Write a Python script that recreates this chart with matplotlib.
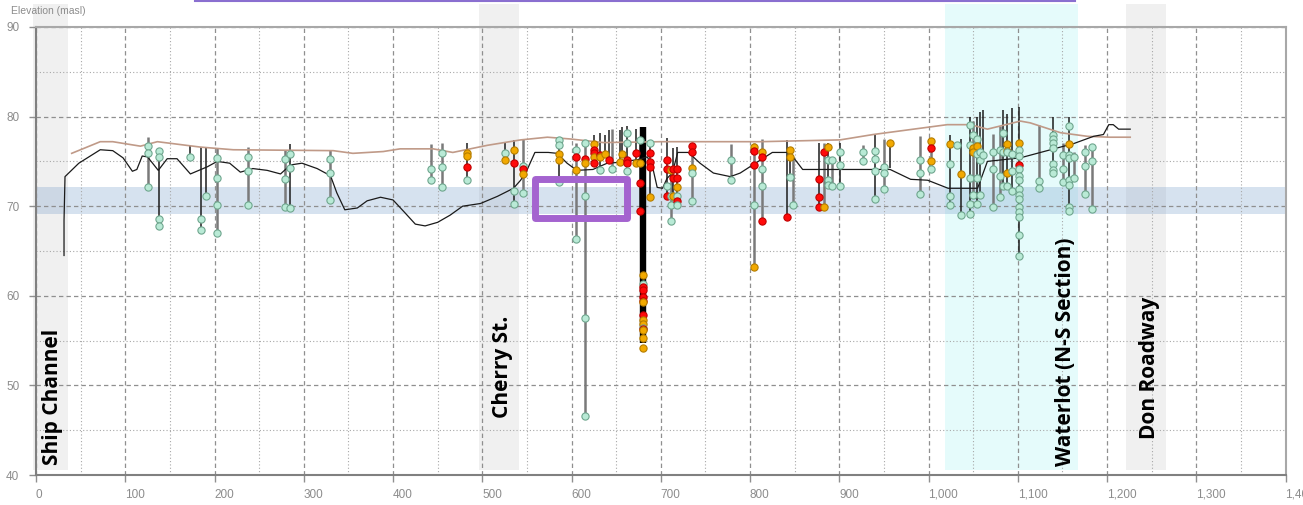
import matplotlib
matplotlib.use("Agg")
import matplotlib.pyplot as plt
from matplotlib.patches import Rectangle
from matplotlib.lines import Line2D

# ground surface (brown) and fill / bedrock profile (black)
surf_x = [40, 72, 86, 117, 136, 184, 221, 333, 355, 389, 408, 445, 467, 506, 543, 573, 599, 636,
          700, 812, 901, 938, 1021, 1047, 1066, 1103, 1114, 1148, 1178, 1203, 1226]
surf_z = [75.9, 77.2, 77.2, 76.7, 77.2, 76.6, 76.3, 76.2, 75.9, 76.1, 76.4, 76.4, 76.0, 76.8, 77.4,
          77.7, 77.5, 77.1, 77.2, 77.2, 77.4, 78.0, 79.1, 79.1, 78.6, 79.5, 79.3, 78.2, 77.8, 77.7, 77.7]

prof_x = [31.4, 31.4, 32.5, 48, 72, 86, 97.5, 108, 113, 119, 125, 137, 147, 158, 173, 192, 203, 217,
          229, 243, 259, 274, 285, 298, 315, 330, 337, 346, 360, 371, 386, 400, 414, 425, 436, 450,
          464, 478, 498, 517, 535, 543, 550, 559, 574, 584, 595, 606, 624, 640, 655, 674, 685, 691,
          696, 702, 707, 713, 719, 731, 744, 759, 778, 789, 803, 825, 842, 849, 859, 957, 980, 999,
          1022, 1055, 1066, 1103, 1163, 1185, 1196, 1202, 1207, 1213, 1226]
prof_z = [64.5, 68.4, 73.3, 74.8, 76.3, 76.2, 75.4, 73.9, 74.1, 75.6, 75.5, 74.0, 75.3, 75.3, 73.6,
          74.4, 75.0, 74.8, 73.8, 74.2, 74.0, 73.6, 74.6, 74.8, 74.2, 73.4, 71.5, 69.6, 69.8, 70.6,
          71.0, 70.7, 69.2, 68.0, 67.8, 68.2, 69.0, 70.0, 70.3, 71.1, 72.0, 72.9, 74.0, 76.0, 76.0,
          75.9, 74.8, 74.0, 74.1, 74.8, 74.9, 75.2, 75.5, 74.3, 72.1, 72.0, 73.1, 73.7, 76.0, 76.0,
          74.8, 73.7, 73.3, 73.7, 74.6, 76.0, 76.0, 75.4, 74.1, 74.1, 73.0, 72.9, 72.0, 72.0, 75.0,
          75.4, 77.0, 77.8, 78.0, 79.1, 79.1, 78.6, 78.6]

# boreholes: chainage, top, bottom, type
bh_x = [126, 137.5, 172, 185, 190.6, 203, 237, 279.5, 285, 329.6, 443, 455, 483, 525, 536, 546,
        586, 605, 615.5, 625, 632, 637, 642, 645, 654, 657, 662, 672, 677, 680, 688, 707, 712,
        714, 718, 735, 779, 804, 813, 841.5, 844.5, 848, 877, 882.6, 887, 892, 901, 927, 940,
        950.7, 957, 991, 1003, 1024, 1032, 1036, 1046, 1050, 1054, 1058, 1061, 1072.5, 1080,
        1083, 1088, 1093, 1101, 1124, 1139, 1151, 1157, 1163, 1175, 1183.5]
bh_top = [77.7, 76.5, 76.7, 76.6, 76.6, 76.5, 76.6, 76.3, 76.9, 76.3, 76.9, 77.0, 77.0, 77.1, 77.4,
          77.5, 77.6, 77.0, 77.4, 78.0, 78.2, 78.0, 78.5, 78.6, 78.5, 78.8, 79.0, 78.6, 77.6, 78.8,
          77.4, 77.6, 74.0, 76.5, 76.6, 76.9, 76.9, 77.0, 77.5, 77.4, 76.5, 75.5, 77.0, 77.0, 77.1,
          75.5, 77.0, 76.8, 78.0, 77.5, 77.3, 77.8, 77.5, 78.0, 77.0, 77.5, 80.0, 79.5, 80.0, 80.5,
          80.7, 78.1, 79.0, 80.7, 80.3, 81.0, 81.1, 79.1, 80.0, 77.0, 80.0, 76.0, 76.8, 76.8]
bh_bot = [72.1, 67.8, 75.5, 67.3, 70.7, 67.0, 70.1, 69.9, 69.8, 70.7, 72.9, 72.1, 72.9, 75.2, 70.2,
          71.5, 72.7, 66.3, 46.6, 74.8, 74.0, 75.8, 75.2, 74.2, 74.9, 75.8, 73.9, 74.8, 69.5, 54.7,
          71.0, 71.1, 68.4, 71.1, 70.1, 70.6, 72.9, 63.2, 68.4, 68.8, 73.3, 70.1, 69.9, 69.9, 72.4,
          72.2, 72.2, 75.1, 70.8, 71.9, 74.3, 71.4, 74.2, 70.0, 76.8, 69.0, 69.1, 71.3, 70.3, 71.3,
          75.7, 69.9, 71.0, 72.2, 72.2, 71.7, 64.4, 72.0, 73.7, 72.7, 69.5, 73.1, 71.4, 69.7]
bh_type = ["MW", "BH", "BH", "BH", "BH", "MW", "MW", "MW", "BH", "MW", "MW", "MW", "BH", "BH", "BH",
           "MW", "BH", "MW", "MW", "BH", "BH", "BH", "BH", "MW", "BH", "BH", "BH", "BH", "BH", "DP",
           "BH", "BH", "MW", "BH", "BH", "MW", "MW", "MW", "MW", "BH", "BH", "MW", "BH", "MW", "BH",
           "MW", "BH", "MW", "BH", "MW", "BH", "MW", "MW", "BH", "BH", "BH", "BH", "MW", "BH", "BH",
           "BH", "MW", "MW", "BH", "BH", "BH", "BH", "MW", "BH", "MW", "BH", "MW", "MW", "MW"]

# sample elevations per borehole and their result class (G ok, O moderate, R exceedance)
smp_z = [
    [76.7, 75.9, 72.1], [76.2, 75.5, 68.6, 67.8], [75.5], [68.6, 67.3], [71.1],
    [75.4, 73.1, 70.1, 67.0], [75.5, 73.9, 70.1], [75.3, 73.0, 69.9], [75.8, 74.3, 69.8],
    [75.3, 73.7, 70.7], [74.1, 72.9], [75.9, 74.4, 72.1], [75.9, 75.6, 74.4, 72.9], [75.9, 75.2],
    [76.3, 74.8, 71.7, 70.2], [74.5, 74.1, 73.6, 71.5], [77.4, 76.8, 75.8, 75.2, 72.7],
    [76.3, 75.5, 74.0, 66.3], [77.1, 75.3, 74.8, 71.1, 57.5, 46.6], [76.9, 76.3, 75.9, 75.5, 74.8],
    [75.7, 75.5, 74.0], [75.8], [75.2], [74.2], [74.9], [75.8], [78.2, 77.1, 75.2, 74.8, 73.9],
    [75.9, 74.8], [77.4, 74.8, 72.6, 69.5],
    [62.3, 61.3, 61.0, 60.6, 59.9, 59.4, 59.3, 57.9, 57.3, 56.9, 56.4, 56.3, 56.2, 55.3, 54.2],
    [77.1, 75.9, 74.9, 74.4, 71.0], [75.2, 74.1, 72.2, 71.1], [74.0, 71.1, 70.1, 68.4],
    [74.2, 73.2, 71.1], [74.1, 73.1, 72.1, 71.1, 70.6, 70.1], [76.7, 76.0, 74.3, 73.7, 70.6],
    [75.2, 72.9], [76.6, 76.2, 74.6, 70.1, 63.2], [76.1, 75.5, 74.1, 72.3, 68.4], [68.8],
    [76.3, 75.5, 73.3], [70.1], [73.0, 71.0, 69.9], [76.0, 69.9], [76.6, 75.2, 72.9, 72.4],
    [75.2, 72.2], [76.1, 74.6, 72.2], [76.0, 75.1], [76.2, 75.3, 73.9, 70.8], [74.4, 73.7, 71.9],
    [77.0], [75.2, 73.7, 71.4], [77.3, 76.5, 75.0, 74.2], [76.9, 74.7, 71.1, 70.1], [76.8],
    [73.6, 69.0], [79.1, 76.8, 73.2, 70.2, 69.1], [78.0, 76.5, 76.1, 71.3],
    [77.5, 76.7, 75.8, 73.1, 70.3], [76.0, 75.2, 71.3], [75.7], [76.0, 74.2, 69.9],
    [76.3, 73.4, 71.0], [78.2, 76.0, 72.2], [76.9, 76.2, 76.0, 73.7, 72.2], [75.8, 73.9, 71.7],
    [77.1, 76.3, 75.6, 74.6, 74.2, 73.4, 72.9, 71.9, 71.2, 70.8, 69.9, 69.4, 68.8, 66.8, 64.4],
    [72.8, 72.0], [77.9, 77.5, 77.0, 76.5, 74.7, 74.0, 73.7], [75.7, 74.2, 72.7],
    [79.0, 76.9, 75.7, 75.4, 72.9, 72.4, 69.9, 69.5], [75.5, 73.1], [76.0, 74.5, 71.4],
    [76.6, 75.0, 69.7],
]
smp_cls = [
    "GGG", "GGGG", "G", "GG", "G", "GGGG", "GGG", "GGG", "GGG", "GGG", "GG", "GGG", "OORG", "GO",
    "ORGG", "GROG", "GGOOG", "GROG", "GROGGG", "ORROR", "ROG", "O", "R", "G", "O", "O", "GGRRG",
    "RO", "GORR", "OGRRRROROOGROOO", "GRRRO", "RRGR", "OGGG", "RRO",
    "RROGRG", "RROGG", "GG", "ORRGO", "ORGGR", "R", "OOG", "G", "RRR", "RO", "OGGG", "GG", "GGG",
    "GG", "GGGG", "GGG", "O", "GGG", "OROG", "OGGG", "G", "OG", "GGGGG", "GOOG", "GOGGG", "GGG",
    "G", "GGG", "GGG", "GGG", "OOGOG", "GGG", "OGGRGGGGGGGGGGG", "GG", "GGGGGGG", "GGG",
    "GOGGGGGG", "GG", "GGG", "GGG",
]

# shaded zones along the alignment
zone_names = ["Ship Channel", "Cherry St.", "Waterlot (N-S Section)", "Don Roadway"]
zone_x0 = [-3, 496.6, 1018, 1221]
zone_x1 = [35.5, 541.5, 1167, 1266]
zone_label_x = [19, 523, 1153.5, 1248]
zone_label_z = [41.1, 46.4, 41.0, 44.0]

band_lo, band_hi = 69.1, 72.1          # groundwater range
focus_x = (558.9, 662.0)               # highlighted area
focus_z = (68.63, 73.09)

line_style = {"BH": ("#1c1c1c", 1.1), "MW": ("#7a7a7a", 1.8), "DP": ("#000000", 4.6)}
marker_col = {"G": ("#b9ead6", "#6fa68e"), "O": ("#f2a900", "#b57d00"), "R": ("#ff0a0a", "#c00000")}


def main():
    fig = plt.figure(figsize=(13.03, 5.05), dpi=100)
    ax = fig.add_axes([36 / 1303, 30 / 505, 1249.5 / 1303, 448 / 505])
    ax.set_xlim(0, 1400)
    ax.set_ylim(40, 90)

    zone_col = ["#f0f0f0", "#f0f0f0", "#e5fbfb", "#f0f0f0"]
    for x0, x1, c in zip(zone_x0, zone_x1, zone_col):
        ax.add_patch(Rectangle((x0, 40.55), x1 - x0, 52.05, facecolor=c, edgecolor="none",
                               zorder=0.2, clip_on=False))
    ax.axhspan(band_lo, band_hi, color="#6f98c8", alpha=0.28, lw=0, zorder=0.4)

    ax.set_xticks(range(0, 1401, 100))
    ax.set_xticks(range(50, 1400, 100), minor=True)
    ax.set_yticks(range(40, 91, 10))
    ax.set_yticks(range(45, 90, 10), minor=True)
    ax.set_xticklabels([f"{v:,}" for v in range(0, 1401, 100)], ha="left")
    ax.grid(which="major", color="#8f8f8f", lw=0.9, ls=(0, (3.5, 2.5)))
    ax.grid(which="minor", color="#a8a8a8", lw=0.8, ls=(0, (1, 2)))
    ax.tick_params(which="major", length=5, width=1, color="#8f8f8f", labelcolor="#8c8c8c",
                   labelsize=8.5)
    ax.tick_params(axis="y", pad=7)
    ax.tick_params(axis="x", pad=5)
    ax.tick_params(which="minor", length=0)
    for lab in ax.get_xticklabels() + ax.get_yticklabels():
        lab.set_family("Liberation Sans")
    for side in ["left", "bottom"]:
        ax.spines[side].set_color("#808080")
        ax.spines[side].set_linewidth(1.5)
    for side in ["top", "right"]:
        ax.spines[side].set_color("#a8a8a8")
        ax.spines[side].set_linewidth(1.5)

    # boreholes
    for x, top, bot, kind in zip(bh_x, bh_top, bh_bot, bh_type):
        c, lw = line_style[kind]
        ax.plot([x, x], [top, bot], color=c, lw=lw, solid_capstyle="butt", zorder=2)

    ax.plot(surf_x, surf_z, color="#c09a88", lw=1.2, zorder=2.5)
    ax.plot(prof_x, prof_z, color="#1a1a1a", lw=0.9, zorder=2.5)

    for x, zs, cls in zip(bh_x, smp_z, smp_cls):
        for z, k in zip(zs, cls):
            fc, ec = marker_col[k]
            ax.plot(x, z, "o", ms=5.2, mfc=fc, mec=ec, mew=0.8, zorder=3)

    ax.add_patch(Rectangle((focus_x[0], focus_z[0]), focus_x[1] - focus_x[0],
                           focus_z[1] - focus_z[0], fill=False, edgecolor="#a463cf", lw=5,
                           joinstyle="round", zorder=4))

    for name, x, z in zip(zone_names, zone_label_x, zone_label_z):
        ax.text(x, z, name, rotation=90, ha="center", va="bottom", fontsize=15,
                fontweight="bold", family="Open Sans", color="black", zorder=5)

    fig.text(11 / 1303, 1 - 11 / 505, "Elevation (masl)", fontsize=7.5, color="#8c8c8c",
             family="Liberation Sans", va="center", ha="left")
    fig.add_artist(Line2D([195 / 1303, 1075 / 1303], [0.999, 0.999], transform=fig.transFigure,
                          color="#8a6fd0", lw=1.5))

    fig.savefig("out.png", dpi=100)
    plt.close(fig)


if __name__ == "__main__":
    main()
